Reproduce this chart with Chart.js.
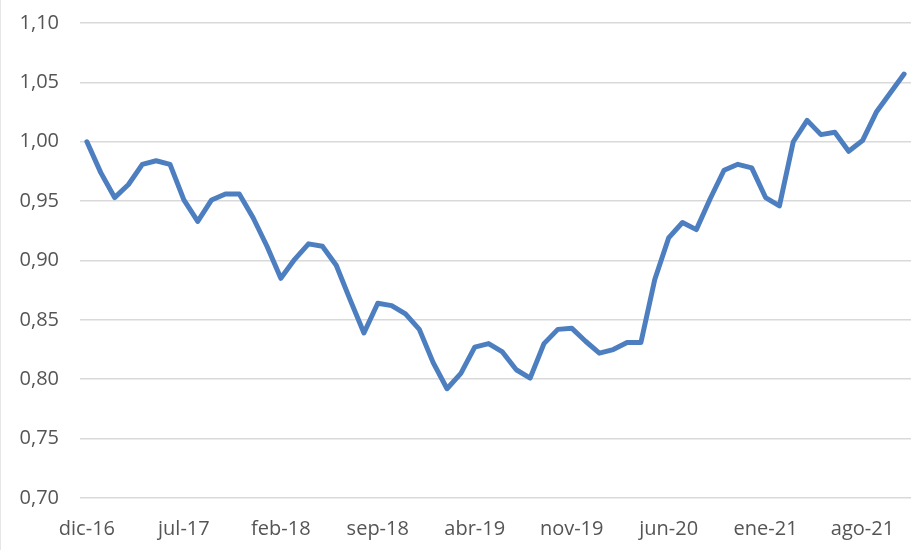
<!DOCTYPE html>
<html>
<head>
<meta charset="utf-8">
<script src="https://cdn.jsdelivr.net/npm/chart.js@4/dist/chart.umd.min.js"></script>
<style>
  html, body { margin: 0; padding: 0; background: #ffffff; }
  #wrap { position: relative; width: 923px; height: 550px; box-sizing: border-box; border-left: 1px solid #e6e6e6; }
</style>
</head>
<body>
<div id="wrap"><canvas id="c" width="922" height="550"></canvas></div>
<script>
const categories = [
  'dic-16','ene-17','feb-17','mar-17','abr-17','may-17','jun-17','jul-17','ago-17','sep-17','oct-17','nov-17',
  'dic-17','ene-18','feb-18','mar-18','abr-18','may-18','jun-18','jul-18','ago-18','sep-18','oct-18','nov-18',
  'dic-18','ene-19','feb-19','mar-19','abr-19','may-19','jun-19','jul-19','ago-19','sep-19','oct-19','nov-19',
  'dic-19','ene-20','feb-20','mar-20','abr-20','may-20','jun-20','jul-20','ago-20','sep-20','oct-20','nov-20',
  'dic-20','ene-21','feb-21','mar-21','abr-21','may-21','jun-21','jul-21','ago-21','sep-21','oct-21','nov-21'
];
const seriesValues = [
  1.000, 0.974, 0.953, 0.964, 0.981, 0.984, 0.981, 0.951, 0.933, 0.951, 0.956, 0.956,
  0.936, 0.912, 0.885, 0.901, 0.914, 0.912, 0.896, 0.867, 0.839, 0.864, 0.862, 0.855,
  0.842, 0.814, 0.792, 0.805, 0.827, 0.830, 0.823, 0.808, 0.801, 0.830, 0.842, 0.843,
  0.832, 0.822, 0.825, 0.831, 0.831, 0.884, 0.919, 0.932, 0.926, 0.952, 0.976, 0.981,
  0.978, 0.953, 0.946, 1.000, 1.018, 1.006, 1.008, 0.992, 1.001, 1.025, 1.041, 1.057
];
const yTickValues = [0.70, 0.75, 0.80, 0.85, 0.90, 0.95, 1.00, 1.05, 1.10];
const labelEvery = 7;

const fontFamily = "'Open Sans', 'Liberation Sans', sans-serif";

new Chart(document.getElementById('c'), {
  type: 'line',
  data: {
    labels: categories,
    datasets: [{
      data: seriesValues,
      borderColor: '#4d7fc0',
      borderWidth: 5,
      pointRadius: 0,
      tension: 0,
      fill: false,
      borderJoinStyle: 'round',
      borderCapStyle: 'round'
    }]
  },
  options: {
    responsive: false,
    animation: false,
    layout: { padding: { top: 23, right: 12, left: 0, bottom: 0 } },
    plugins: { legend: { display: false }, tooltip: { enabled: false } },
    scales: {
      x: {
        offset: true,
        grid: { display: false, drawTicks: false },
        border: { display: false },
        ticks: {
          autoSkip: false,
          maxRotation: 0,
          minRotation: 0,
          padding: 19,
          color: '#555555',
          font: { family: fontFamily, size: 20 },
          callback: function(v, i) { return i % labelEvery === 0 ? categories[i] : null; }
        },
        afterFit: function(s) { s.height = 52; s.paddingLeft = 0; s.paddingRight = 0; }
      },
      y: {
        min: 0.70,
        max: 1.10,
        afterBuildTicks: function(s) { s.ticks = yTickValues.map(v => ({ value: v })); },
        grid: { color: '#d9d9d9', lineWidth: 1.5, drawTicks: false },
        border: { display: false },
        ticks: {
          padding: 21,
          color: '#555555',
          font: { family: fontFamily, size: 20 },
          callback: function(v) { return v.toFixed(2).replace('.', ','); }
        },
        afterFit: function(s) { s.width = 79; s.paddingTop = 0; s.paddingBottom = 0; }
      }
    }
  }
});
</script>
</body>
</html>
